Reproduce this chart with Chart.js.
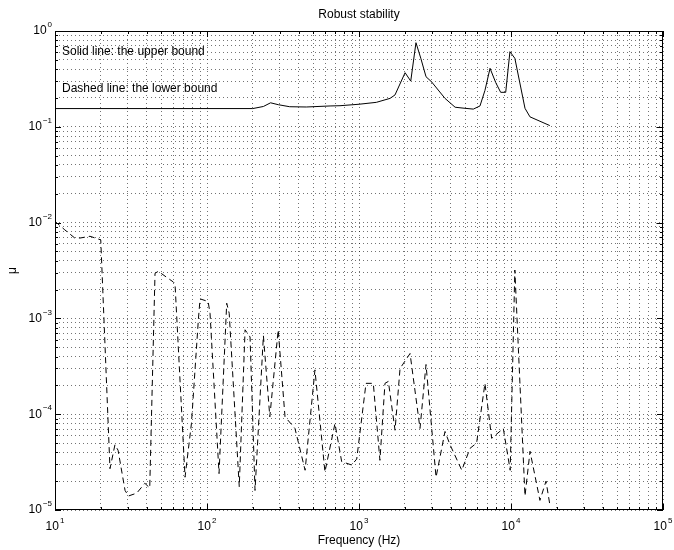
<!DOCTYPE html>
<html>
<head>
<meta charset="utf-8">
<script src="https://cdn.jsdelivr.net/npm/chart.js@4.4.0/dist/chart.umd.min.js"></script>
<style>
  body { margin: 0; background: #fff; }
  #wrap { width: 674px; height: 550px; }
</style>
</head>
<body>
<div id="wrap"><canvas id="mu-chart" width="674" height="550"></canvas></div>
<script>
// upper bound of mu (solid line)
var upperFreq = [10, 200, 235, 262, 295, 350, 450, 645, 750, 1000, 1300, 1600, 1725, 2010, 2190, 2370, 2550, 2760, 3000, 3680, 4290, 4980, 5650, 6250, 6740, 7280, 7930, 8550, 9230, 9840, 10600, 12360, 13330, 18000];
var upperMu = [0.155, 0.155, 0.163, 0.178, 0.17, 0.162, 0.161, 0.165, 0.166, 0.172, 0.18, 0.198, 0.215, 0.367, 0.30, 0.755, 0.52, 0.333, 0.295, 0.198, 0.16, 0.156, 0.153, 0.165, 0.24, 0.408, 0.29, 0.229, 0.229, 0.608, 0.519, 0.156, 0.127, 0.103];

// lower bound of mu (dashed line)
var lowerFreq = [10, 11.6, 13.5, 14.6, 17, 20, 23, 24.8, 26, 28.9, 30.4, 34.5, 39, 42, 45.5, 47.8, 60, 61.6, 71.7, 79, 87.7, 90, 101.7, 104.7, 120, 134.8, 140, 163, 178, 192, 207, 235, 259, 294, 326, 379, 442, 513, 597, 695, 769, 895, 966, 1112, 1242, 1373, 1482, 1560, 1726, 1862, 2167, 2520, 2760, 3213, 3680, 3970, 4745, 5375, 5940, 6740, 7460, 8900, 9880, 10600, 12360, 13340, 15500, 17000, 18070];
var lowerMu = [0.0103, 0.0084, 0.0069, 0.0069, 0.0072, 0.0066, 2.7e-5, 4.8e-5, 4.2e-5, 1.6e-5, 1.4e-5, 1.5e-5, 1.9e-5, 1.7e-5, 0.00296, 0.0031, 0.0024, 0.0023, 2.2e-5, 8e-5, 0.00096, 0.0016, 0.0015, 0.00113, 2.4e-5, 0.00144, 0.00113, 1.75e-5, 0.00076, 0.00064, 1.6e-5, 0.00066, 9.4e-5, 0.00076, 9.4e-5, 7.1e-5, 2.6e-5, 0.00029, 2.5e-5, 8e-5, 3.2e-5, 2.95e-5, 3.4e-5, 0.00021, 0.00021, 3.3e-5, 0.00021, 0.00022, 6.8e-5, 0.0003, 0.00043, 7.1e-5, 0.00033, 2.2e-5, 6.6e-5, 4.8e-5, 2.6e-5, 4.4e-5, 5e-5, 0.00021, 5.6e-5, 7.1e-5, 2.6e-5, 0.0032, 1.4e-5, 4.1e-5, 1.26e-5, 2e-5, 1.1e-5];

// decades shown on each axis
var xDecades = [1, 2, 3, 4, 5];
var yDecades = [-5, -4, -3, -2, -1, 0];

var titleText = 'Robust stability';
var xTitle = 'Frequency (Hz)';
var yTitle = '\u03bc';
var notes = ['Solid line: the upper bound', 'Dashed line: the lower bound'];

var FONT = '"Liberation Sans", Arial, Helvetica, sans-serif';

function toPoints(xs, ys) {
  return xs.map(function (x, i) { return { x: x, y: ys[i] }; });
}

// 1..9 x 10^n for every decade, plus the last decade
function logTicks(decades) {
  var out = [];
  for (var i = 0; i < decades.length - 1; i++) {
    for (var k = 1; k <= 9; k++) out.push({ value: k * Math.pow(10, decades[i]) });
  }
  out.push({ value: Math.pow(10, decades[decades.length - 1]) });
  return out;
}

function isDecade(v) {
  var e = Math.log10(v);
  return Math.abs(e - Math.round(e)) < 1e-9;
}

// "10" with a raised exponent
function drawPower(ctx, exp, x, y, align) {
  var base = '10', sup = exp < 0 ? '\u2212' + (-exp) : String(exp);
  ctx.font = '12px ' + FONT;
  var wb = ctx.measureText(base).width;
  ctx.font = '8px ' + FONT;
  var ws = ctx.measureText(sup).width;
  var left = align === 'right' ? x - wb - ws - 1 : x - (wb + ws + 1) / 2;
  ctx.textAlign = 'left';
  ctx.textBaseline = 'middle';
  ctx.font = '12px ' + FONT;
  ctx.fillText(base, left, y);
  ctx.font = '8px ' + FONT;
  ctx.fillText(sup, left + wb + 1, y - 6);
}

var axisDecor = {
  id: 'axisDecor',
  afterDatasetsDraw: function (chart) {
    var ctx = chart.ctx, a = chart.chartArea;
    var xs = chart.scales.x, ys = chart.scales.y;
    ctx.save();
    ctx.strokeStyle = '#000';
    ctx.fillStyle = '#000';
    ctx.lineWidth = 1;
    ctx.setLineDash([]);

    // box
    ctx.strokeRect(Math.round(a.left) + 0.5, Math.round(a.top) + 0.5,
      Math.round(a.right - a.left) - 1, Math.round(a.bottom - a.top) - 1);

    // inward tick marks on all four sides
    ctx.beginPath();
    xs.ticks.forEach(function (t) {
      var px = Math.round(xs.getPixelForValue(t.value)) + 0.5;
      var len = isDecade(t.value) ? 6 : 3;
      ctx.moveTo(px, a.bottom); ctx.lineTo(px, a.bottom - len);
      ctx.moveTo(px, a.top); ctx.lineTo(px, a.top + len);
    });
    ys.ticks.forEach(function (t) {
      var py = Math.round(ys.getPixelForValue(t.value)) + 0.5;
      var len = isDecade(t.value) ? 6 : 3;
      ctx.moveTo(a.left, py); ctx.lineTo(a.left + len, py);
      ctx.moveTo(a.right, py); ctx.lineTo(a.right - len, py);
    });
    ctx.stroke();

    // decade labels
    xDecades.forEach(function (e) {
      drawPower(ctx, e, xs.getPixelForValue(Math.pow(10, e)), a.bottom + 17, 'center');
    });
    yDecades.forEach(function (e) {
      drawPower(ctx, e, a.left - 3, ys.getPixelForValue(Math.pow(10, e)), 'right');
    });

    // titles
    ctx.font = '12px ' + FONT;
    ctx.textAlign = 'center';
    ctx.textBaseline = 'middle';
    var cx = (a.left + a.right) / 2;
    ctx.fillText(titleText, cx, 15);
    ctx.fillText(xTitle, cx, a.bottom + 31);
    ctx.save();
    ctx.translate(13, (a.top + a.bottom) / 2);
    ctx.rotate(-Math.PI / 2);
    ctx.fillText(yTitle, 0, 0);
    ctx.restore();

    // notes inside the axes
    ctx.textAlign = 'left';
    ctx.fillText(notes[0], a.left + 7, 52);
    ctx.fillText(notes[1], a.left + 7, 89);
    ctx.restore();
  }
};

var gridOpts = { color: 'rgba(0,0,0,0.55)', lineWidth: 1, drawTicks: false, tickLength: 0 };

var ctx = document.getElementById('mu-chart').getContext('2d');
var muChart = new Chart(ctx, {
  type: 'scatter',
  data: {
    datasets: [{
      label: 'upper bound',
      data: toPoints(upperFreq, upperMu),
      showLine: true,
      borderColor: '#000',
      borderWidth: 1,
      pointRadius: 0,
      tension: 0
    }, {
      label: 'lower bound',
      data: toPoints(lowerFreq, lowerMu),
      showLine: true,
      borderColor: '#000',
      borderWidth: 1,
      borderDash: [6, 4],
      pointRadius: 0,
      tension: 0
    }]
  },
  options: {
    responsive: false,
    animation: false,
    layout: { padding: { top: 31, right: 11, left: 0, bottom: 0 } },
    plugins: { legend: { display: false }, title: { display: false }, tooltip: { enabled: false } },
    scales: {
      x: {
        type: 'logarithmic',
        min: 10, max: 1e5,
        grid: gridOpts,
        border: { display: false, dash: [1, 3] },
        ticks: { display: false },
        afterBuildTicks: function (scale) { scale.ticks = logTicks(xDecades); },
        afterFit: function (scale) { scale.height = 40; }
      },
      y: {
        type: 'logarithmic',
        min: 1e-5, max: 1,
        grid: gridOpts,
        border: { display: false, dash: [1, 3] },
        ticks: { display: false },
        afterBuildTicks: function (scale) { scale.ticks = logTicks(yDecades); },
        afterFit: function (scale) { scale.width = 55; }
      }
    }
  },
  plugins: [axisDecor]
});
</script>
</body>
</html>
